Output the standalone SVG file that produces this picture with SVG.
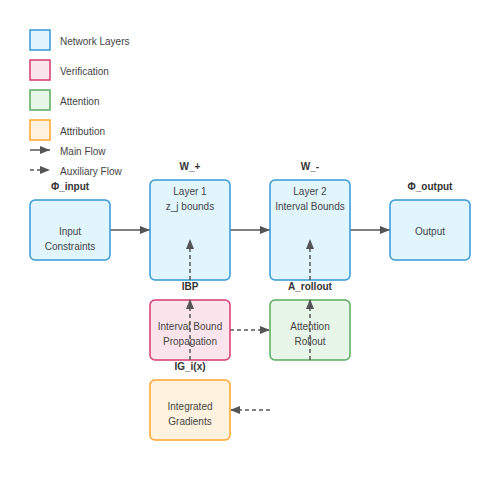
<svg xmlns="http://www.w3.org/2000/svg" width="500" height="500" viewBox="0 0 500 500">
<defs>
<marker id="ah" viewBox="0 0 10 8" refX="10" refY="4" markerWidth="10" markerHeight="8" markerUnits="userSpaceOnUse" orient="auto">
<path d="M0,0 L10,4 L0,8 Z" fill="#555"/>
</marker>
</defs>
<style>
text{font-family:"Liberation Sans",Arial,sans-serif;font-size:10px;fill:#444}
.c{text-anchor:middle}
.lbl{font-weight:bold;fill:#333;text-anchor:middle}
.net{fill:#e1f5fe;stroke:#3399d6;stroke-width:1.5}
.ver{fill:#fce4ec;stroke:#d83a72;stroke-width:1.5}
.att{fill:#e8f5e9;stroke:#5aab5d;stroke-width:1.5}
.atr{fill:#fff3e0;stroke:#ffa42a;stroke-width:1.5}
.main{stroke:#555;stroke-width:1.5;fill:none;marker-end:url(#ah)}
.aux{stroke:#555;stroke-width:1.5;fill:none;stroke-dasharray:4,3;marker-end:url(#ah)}
</style>
<rect width="500" height="500" fill="#fff"/>
<g id="legend">
<rect class="net" x="30" y="30" width="20" height="20"/>
<text x="60" y="45">Network Layers</text>
<rect class="ver" x="30" y="60" width="20" height="20"/>
<text x="60" y="75">Verification</text>
<rect class="att" x="30" y="90" width="20" height="20"/>
<text x="60" y="105">Attention</text>
<rect class="atr" x="30" y="120" width="20" height="20"/>
<text x="60" y="135">Attribution</text>
<line class="main" x1="30" y1="150" x2="50" y2="150"/>
<text x="60" y="155">Main Flow</text>
<line class="aux" x1="30" y1="170" x2="50" y2="170"/>
<text x="60" y="175">Auxiliary Flow</text>
</g>
<g id="connectors">
<line class="main" x1="110" y1="230" x2="150" y2="230"/>
<line class="main" x1="230" y1="230" x2="270" y2="230"/>
<line class="main" x1="350" y1="230" x2="390" y2="230"/>
<line class="aux" x1="230" y1="330" x2="270" y2="330"/>
<line class="aux" x1="270" y1="410" x2="230" y2="410"/>
</g>
<g id="input">
<rect class="net" x="30" y="200" width="80" height="60" rx="5"/>
<text class="c" x="70" y="235">Input</text>
<text class="c" x="70" y="250">Constraints</text>
<text class="lbl" x="70" y="190">Φ_input</text>
</g>
<g id="layer1">
<rect class="net" x="150" y="180" width="80" height="100" rx="5"/>
<text class="c" x="190" y="195">Layer 1</text>
<text class="c" x="190" y="210">z_j bounds</text>
<text class="lbl" x="190" y="170">W_+</text>
</g>
<g id="layer2">
<rect class="net" x="270" y="180" width="80" height="100" rx="5"/>
<text class="c" x="310" y="195">Layer 2</text>
<text class="c" x="310" y="210">Interval Bounds</text>
<text class="lbl" x="310" y="170">W_-</text>
</g>
<g id="output">
<rect class="net" x="390" y="200" width="80" height="60" rx="5"/>
<text class="c" x="430" y="235">Output</text>
<text class="lbl" x="430" y="190">Φ_output</text>
</g>
<g id="ibp">
<rect class="ver" x="150" y="300" width="80" height="60" rx="5"/>
<text class="c" x="190" y="330">Interval Bound</text>
<text class="c" x="190" y="345">Propagation</text>
<text class="lbl" x="190" y="290">IBP</text>
</g>
<g id="rollout">
<rect class="att" x="270" y="300" width="80" height="60" rx="5"/>
<text class="c" x="310" y="330">Attention</text>
<text class="c" x="310" y="345">Rollout</text>
<text class="lbl" x="310" y="290">A_rollout</text>
</g>
<g id="ig">
<rect class="atr" x="150" y="380" width="80" height="60" rx="5"/>
<text class="c" x="190" y="410">Integrated</text>
<text class="c" x="190" y="425">Gradients</text>
<text class="lbl" x="190" y="370">IG_i(x)</text>
</g>
<g id="connectors-vertical">
<line class="aux" x1="190" y1="280" x2="190" y2="239"/>
<line class="aux" x1="190" y1="360" x2="190" y2="299"/>
<line class="aux" x1="310" y1="280" x2="310" y2="239"/>
<line class="aux" x1="310" y1="360" x2="310" y2="299"/>
</g>
</svg>
